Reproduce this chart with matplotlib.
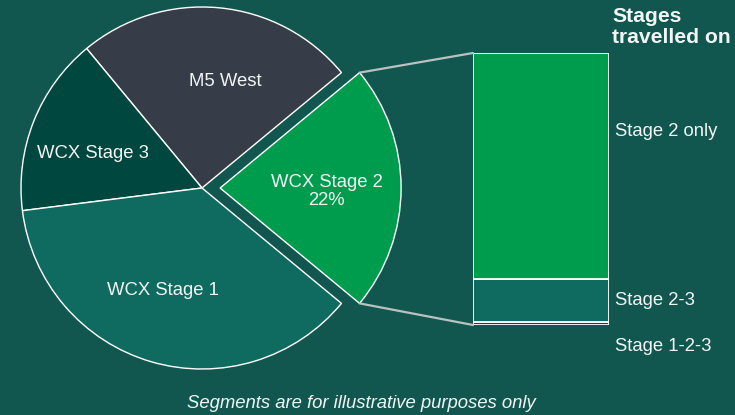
import matplotlib
matplotlib.use("Agg")
from matplotlib import pyplot as plt
from matplotlib.patches import ConnectionPatch
import numpy as np

plt.rcParams['font.family'] = ['Liberation Sans', 'DejaVu Sans']

# pie data (percent share by road section)
sections = ["WCX Stage 2", "M5 West", "WCX Stage 3", "WCX Stage 1"]
section_share = [22, 25, 16, 37]
section_colors = ["#009c4e", "#363d48", "#00473f", "#0f6b60"]

# breakdown of the WCX Stage 2 slice
stages = ["Stage 1-2-3", "Stage 2-3", "Stage 2 only"]
stage_share = [1, 16, 83]
stage_colors = ["#00473f", "#0f6b60", "#009c4e"]

bg = "#11574f"
txt = "#f2f5f4"
fs = 13.3

W, H = 735, 415
fig = plt.figure(figsize=(W / 100, H / 100), dpi=100)
fig.patch.set_facecolor(bg)

# pie axes: centre (202, 188) px from top-left, radius 181 px
r_px = 181
ax = fig.add_axes([(202 - r_px) / W, (H - 188 - r_px) / H, 2 * r_px / W, 2 * r_px / H])
ax.set_facecolor(bg)

labels = []
for name, share in zip(sections, section_share):
    labels.append(name + ("\n%d%%" % share if name == "WCX Stage 2" else ""))

start = -section_share[0] / sum(section_share) * 360 / 2
wedges, texts = ax.pie(section_share, labels=labels, colors=section_colors,
                       startangle=start, counterclock=True,
                       explode=[0.1, 0, 0, 0], labeldistance=0.6,
                       wedgeprops=dict(edgecolor="white", linewidth=1.0),
                       textprops=dict(color=txt, fontsize=fs))
# nudge labels to where the original layout put them
label_pos = [(0.69, -0.02), (0.127, 0.586), (-0.602, 0.193), (-0.215, -0.564)]
for t, pos in zip(texts, label_pos):
    t.set_position(pos)
    t.set_ha("center")
    t.set_va("center")
    t.set_linespacing(1.1)
ax.set_xlim(-1, 1)
ax.set_ylim(-1, 1)
ax.set_aspect("auto")
ax.axis("off")

# stacked bar axes
bx = fig.add_axes([473 / W, (H - 325) / H, 136 / W, 272 / H])
bx.set_facecolor(bg)
bottom = 0
for name, share, col in zip(stages, stage_share, stage_colors):
    bx.bar(0.5, share, width=1.0, bottom=bottom, color=col,
           edgecolor="white", linewidth=1.3)
    bottom += share
bx.set_xlim(0, 1)
bx.set_ylim(0, sum(stage_share))
bx.axis("off")

label_y = [-8, 9, 71]
for name, y in zip(stages, label_y):
    bx.text(1.045, y, name, color=txt, fontsize=fs, va="center", ha="left",
            clip_on=False)

# connector lines from exploded wedge to bar
w = wedges[0]
cx, cy = w.center
for ang, ybar in [(w.theta2, sum(stage_share)), (w.theta1, 0)]:
    px = cx + w.r * np.cos(np.radians(ang))
    py = cy + w.r * np.sin(np.radians(ang))
    con = ConnectionPatch(xyA=(0, ybar), coordsA=bx.transData,
                          xyB=(px, py), coordsB=ax.transData,
                          color="#b9c2c0", linewidth=1.6)
    fig.add_artist(con)

fig.text(612 / W, 1 - 7 / H, "Stages\ntravelled on", color=txt, fontsize=15.2,
         fontweight="bold", ha="left", va="top", linespacing=1.12)

fig.text(361 / W, 12 / H, "Segments are for illustrative purposes only",
         color=txt, fontsize=fs, style="italic", ha="center", va="center")

fig.savefig("out.png", dpi=100, facecolor=bg)
